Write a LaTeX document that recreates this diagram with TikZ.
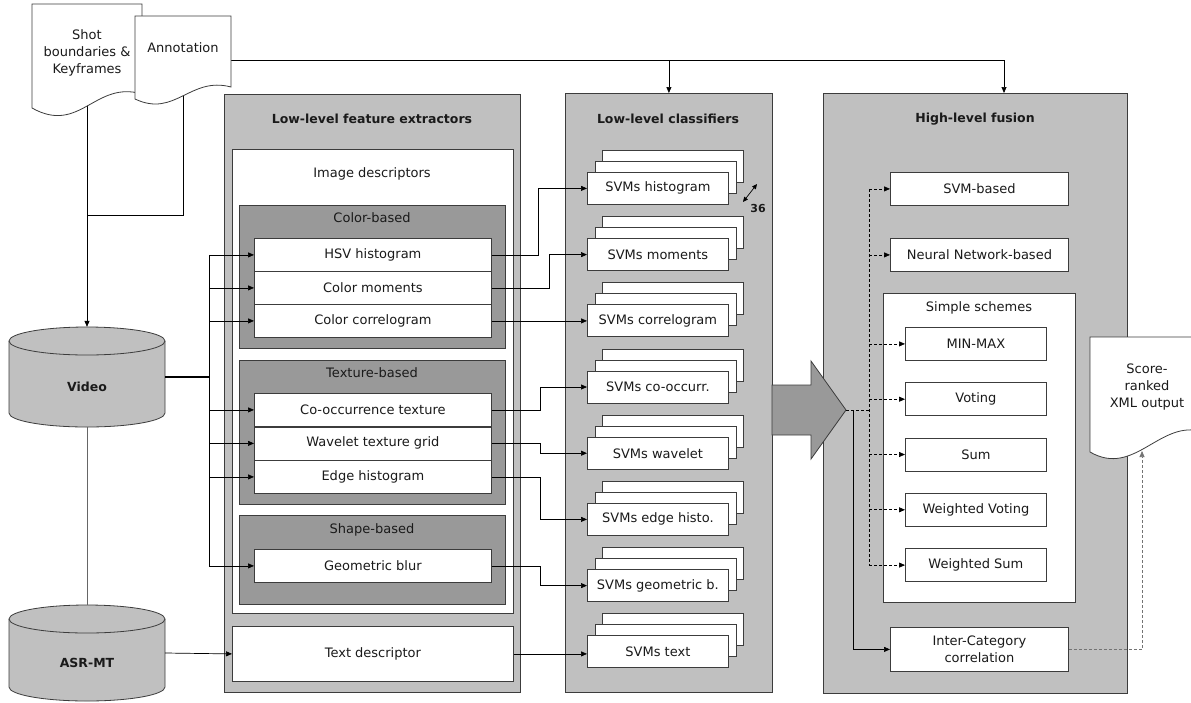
\documentclass[tikz,border=0pt]{standalone}
\usepackage{fontspec}
\setmainfont{DejaVu Sans}
\usetikzlibrary{arrows.meta,shadows}

\begin{document}
\begin{tikzpicture}[x=1pt, y=-1pt,
    every node/.style={font=\fontsize{13}{17}\selectfont, text=textColour},
    title/.style={font=\bfseries\fontsize{12.5}{17}\selectfont},
    frame/.style={draw=borderColour, line width=0.8pt, anchor=north west, inner sep=0pt},
    panel/.style={frame, fill=panelColour},
    group/.style={frame, fill=groupColour},
    sheet/.style={frame, fill=white},
    feature/.style={sheet, minimum width=237pt, minimum height=33pt},
    svm/.style={sheet, minimum width=141pt, minimum height=32pt,
        copy shadow={shadow xshift=15pt, shadow yshift=22pt, fill=white, draw=borderColour, line width=0.8pt},
        copy shadow={shadow xshift=7.5pt, shadow yshift=11pt, fill=white, draw=borderColour, line width=0.8pt}},
    fusion/.style={sheet, minimum width=178pt, minimum height=33pt},
    scheme/.style={sheet, minimum width=141pt, minimum height=33pt},
    doc/.style={draw=borderColour, fill=white, line width=0.8pt},
    store/.style={draw=borderColour, fill=panelColour, line width=0.8pt},
    conn/.style={line width=0.7pt, -{Triangle[length=6pt, width=5pt]}},
    dashconn/.style={conn, dash pattern=on 3pt off 2pt}]
    \definecolor{borderColour}{HTML}{3C3C3C}
    \definecolor{panelColour}{HTML}{C0C0C0}
    \definecolor{groupColour}{HTML}{999999}
    \definecolor{textColour}{HTML}{1A1A1A}

    \useasboundingbox (0,0) rectangle (1191,702);

    % Low-level feature extractors
    \node[panel, minimum width=296pt, minimum height=598pt] (extract) at (224,94) {};
    \node[title] (extractTitle) at (372,119) {Low-level feature extractors};
    \node[sheet, minimum width=281pt, minimum height=464pt] (image) at (232,149) {};
    \node (imageTitle) at (372,174) {Image descriptors};

    \node[group, minimum width=266pt, minimum height=143pt] (colour) at (239,205) {};
    \node (colourTitle) at (372,218) {Color-based};
    \node[feature] (hsv) at (254,238) {HSV histogram};
    \node[feature] (moments) at (254,271) {Color moments};
    \node[feature] (correlogram) at (254,304) {Color correlogram};

    \node[group, minimum width=266pt, minimum height=144pt] (texture) at (239,360) {};
    \node (textureTitle) at (372,373) {Texture-based};
    \node[feature] (cooc) at (254,393) {Co-occurrence texture};
    \node[feature] (wavelet) at (254,426.5) {Wavelet texture grid};
    \node[feature] (edge) at (254,460) {Edge histogram};

    \node[group, minimum width=266pt, minimum height=89pt] (shape) at (239,515) {};
    \node (shapeTitle) at (372,530) {Shape-based};
    \node[feature] (geo) at (254,549) {Geometric blur};

    \node[sheet, minimum width=281pt, minimum height=55pt] (textdesc) at (232,626) {Text descriptor};

    % Low-level classifiers
    \node[panel, minimum width=207pt, minimum height=599pt] (classif) at (565,93) {};
    \node[title] (classifTitle) at (668,119) {Low-level classifiers};
    \foreach \n/\t [count=\i from 0] in {svmhist/SVMs histogram, svmmom/SVMs moments,
        svmcorr/SVMs correlogram, svmcooc/SVMs co-occurr., svmwave/SVMs wavelet,
        svmedge/SVMs edge histo., svmgeo/SVMs geometric b., svmtext/SVMs text}
        \node[svm] (\n) at (587,{172+66.2*\i}) {\t};
    \draw[{Triangle[length=5pt, width=4.5pt]}-{Triangle[length=5pt, width=4.5pt]}, line width=0.7pt] (743,202) -- (757,184);
    \node[font=\bfseries\fontsize{11}{13}\selectfont] (count) at (758,208) {36};

    % High-level fusion
    \node[panel, minimum width=304pt, minimum height=600pt] (fusion) at (823,93) {};
    \node[title] (fusionTitle) at (975,119) {High-level fusion};
    \node[fusion] (svmb) at (890,172) {SVM-based};
    \node[fusion] (nn) at (890,238) {Neural Network-based};
    \node[sheet, minimum width=192pt, minimum height=309pt] (simple) at (883,293) {};
    \node (simpleTitle) at (979,308) {Simple schemes};
    \foreach \n/\t [count=\i from 0] in {minmax/MIN-MAX, voting/Voting, sum/Sum,
        wvoting/Weighted Voting, wsum/Weighted Sum}
        \node[scheme] (\n) at (905,{327+55.3*\i}) {\t};
    \node[fusion, minimum height=44pt, align=center] (inter) at (890,627) {Inter-Category\\correlation};

    % Big arrow
    \filldraw[draw=borderColour, fill=groupColour, line width=0.8pt] (772,385) -- (811,385) -- (811,361)
        -- (846,410) coordinate (tip) -- (811,459) -- (811,435) -- (772,435) -- cycle;

    % Stores
    \filldraw[store] (9,341) -- (9,413) arc[start angle=180, end angle=360, x radius=78pt, y radius=14pt]
        -- (165,341) arc[start angle=0, end angle=180, x radius=78pt, y radius=14pt] -- cycle;
    \draw[store, fill=none] (9,341) arc[start angle=180, end angle=360, x radius=78pt, y radius=14pt];
    \node[minimum width=156pt, minimum height=100pt, inner sep=0pt] (video) at (87,377) {};
    \node[font=\bfseries\fontsize{12.5}{17}\selectfont] (videoLabel) at (87,387) {Video};

    \filldraw[store] (9,619) -- (9,687) arc[start angle=180, end angle=360, x radius=78pt, y radius=14pt]
        -- (165,619) arc[start angle=0, end angle=180, x radius=78pt, y radius=14pt] -- cycle;
    \draw[store, fill=none] (9,619) arc[start angle=180, end angle=360, x radius=78pt, y radius=14pt];
    \node[minimum width=156pt, minimum height=96pt, inner sep=0pt] (asr) at (87,653) {};
    \node[font=\bfseries\fontsize{12.5}{17}\selectfont] (asrLabel) at (87,663) {ASR-MT};

    % Inputs to the feature extractors
    \coordinate (vbus) at (209,377);
    \draw[line width=1.5pt] (video.east) -- (vbus);
    \draw[line width=1pt] (vbus |- hsv.west) -- (vbus |- geo.west);
    \foreach \n in {hsv,moments,correlogram,cooc,wavelet,edge,geo}
        \draw[conn] (vbus |- \n.west) -- (\n.west);
    \draw[conn] (asr.east) -- (textdesc.west);
    \draw[line width=0.7pt, black!60] (video.south) -- (asr.north);

    % Features to classifiers
    \draw[conn] (hsv.east) -- ++(47,0) |- (svmhist.west);
    \draw[conn] (moments.east) -- ++(58,0) |- (svmmom.west);
    \draw[conn] (correlogram.east) -- (correlogram.east -| svmcorr.west);
    \draw[conn] (cooc.east) -- ++(49,0) |- (svmcooc.west);
    \draw[conn] (wavelet.east) -- ++(49,0) |- (svmwave.west);
    \draw[conn] (edge.east) -- ++(49,0) |- (svmedge.west);
    \draw[conn] (geo.east) -- ++(49,0) |- (svmgeo.west);
    \draw[conn] (textdesc.east) -- (textdesc.east -| svmtext.west);

    % Fusion connectors
    \coordinate (bus) at (869,410);
    \coordinate (drop) at (853,410);
    \draw[line width=0.9pt, dash pattern=on 3pt off 2pt] (tip) -- (bus);
    \draw[line width=0.9pt, dash pattern=on 3pt off 2pt] (bus |- svmb.west) -- (bus |- wsum.west);
    \foreach \n in {svmb,nn,minmax,voting,sum,wvoting,wsum}
        \draw[dashconn] (bus |- \n.west) -- (\n.west);
    \draw[conn] (drop) |- (inter.west);

    % Annotation feeds
    \coordinate (shotFoot) at (87,100);
    \coordinate (annotFoot) at (183,95);
    \coordinate (annotRight) at (231,60);
    \coordinate (highIn) at (1004,93);
    \coordinate (outFoot) at (1142,451);
    \draw[line width=0.7pt] (annotFoot) |- (87,215);
    \draw[conn] (shotFoot) -- (video.north);
    \draw[conn] (annotRight) -| (highIn);
    \draw[conn] (annotRight -| classif.north) -- (classif.north);
    \draw[dashconn, black!55] (inter.east) -| (outFoot);

    % Documents
    \filldraw[doc] (32,4) -- (142,4) -- (142,94) .. controls (95,80) and (80,135) .. (32,108) -- cycle;
    \node[align=center] (shot) at (87,53) {Shot\\boundaries \&\\Keyframes};
    \filldraw[doc] (135,16) -- (231,16) -- (231,87) .. controls (190,76) and (175,118) .. (135,99) -- cycle;
    \node (annot) at (183,48) {Annotation};
    \filldraw[doc] (1090,337) -- (1204,337) -- (1204,432) .. controls (1160,418) and (1135,478) .. (1090,452) -- cycle;
    \node[align=center] (output) at (1147,387) {Score-\\ranked\\XML output};

\end{tikzpicture}
\end{document}
